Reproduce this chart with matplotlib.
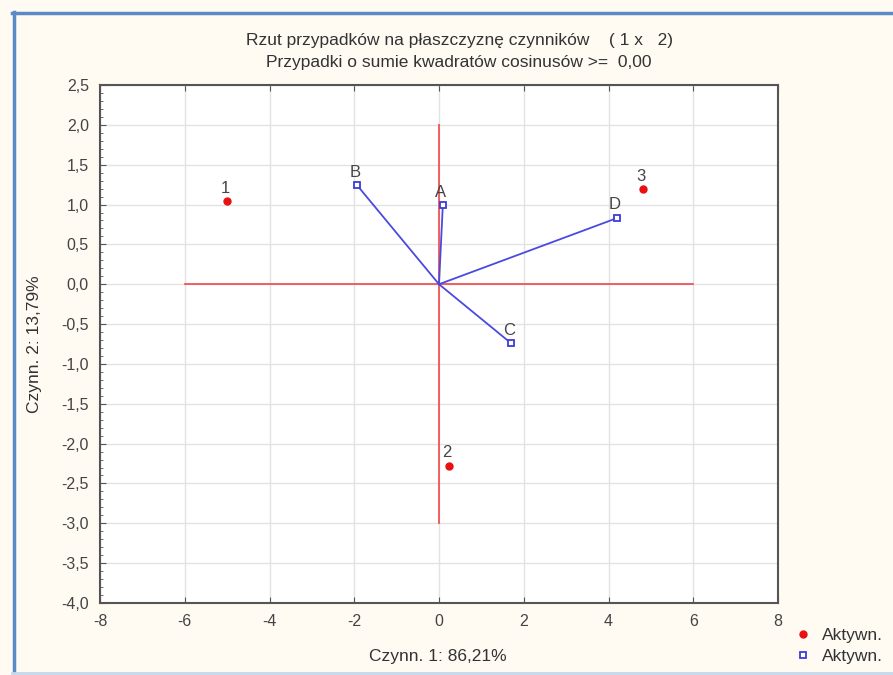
import matplotlib
matplotlib.use("Agg")
import matplotlib.pyplot as plt
from matplotlib.ticker import FuncFormatter, MultipleLocator
from matplotlib.lines import Line2D

plt.rcParams['font.family'] = ['Liberation Sans', 'DejaVu Sans']

# Data
case_labels = ['1', '2', '3']
case_x = [-5.00, 0.24, 4.81]
case_y = [1.04, -2.28, 1.19]

var_labels = ['A', 'B', 'C', 'D']
var_x = [0.09, -1.93, 1.70, 4.20]
var_y = [0.99, 1.24, -0.74, 0.83]

cross_h = [-6, 6]
cross_v = [-3, 2]

x_ticks = [-8, -6, -4, -2, 0, 2, 4, 6, 8]
y_ticks = [-4.0, -3.5, -3.0, -2.5, -2.0, -1.5, -1.0, -0.5, 0.0, 0.5, 1.0, 1.5, 2.0, 2.5]

title1 = "Rzut przypadków na płaszczyznę czynników    ( 1 x   2)"
title2 = "Przypadki o sumie kwadratów cosinusów >=  0,00"
xlabel = "Czynn. 1: 86,21%"
ylabel = "Czynn. 2: 13,79%"
legend_labels = ["Aktywn.", "Aktywn."]

W, H = 893, 675
fig = plt.figure(figsize=(W / 100, H / 100), dpi=100)
fig.patch.set_facecolor('#fffbf2')

# frame border lines (figure coords)
fig.add_artist(Line2D([12 / W, 1.0], [1 - 13 / H, 1 - 13 / H], color='#5b8ac6', lw=2.5))
fig.add_artist(Line2D([14 / W, 14 / W], [1 - 12 / H, 1 - 672 / H], color='#5b8ac6', lw=2.5))
fig.add_artist(Line2D([12 / W, 1.0], [1 - 673 / H, 1 - 673 / H], color='#c5d8ee', lw=2))

ax = fig.add_axes([100 / W, 1 - 603 / H, 678 / W, 518 / H])
ax.set_facecolor('white')
ax.set_xlim(-8, 8)
ax.set_ylim(-4, 2.5)
ax.set_xticks(x_ticks)
ax.set_yticks(y_ticks)
ax.yaxis.set_minor_locator(MultipleLocator(0.1))
ax.xaxis.set_major_formatter(FuncFormatter(lambda v, p: f"{v:.0f}"))
ax.yaxis.set_major_formatter(FuncFormatter(lambda v, p: f"{v:.1f}".replace('.', ',')))
ax.grid(True, which='major', color='#e2e2e2', lw=1)
ax.set_axisbelow(True)
for s in ax.spines.values():
    s.set_color('#555555')
    s.set_linewidth(1.5)
ax.tick_params(which='both', direction='in', top=True, right=False, colors='#555555',
               labelcolor='#444444', labelsize=11.5)
ax.tick_params(which='major', length=4)
ax.tick_params(which='minor', length=2, top=False)
ax.tick_params(axis='x', pad=8)
ax.tick_params(axis='y', pad=8)

# red cross
ax.plot(cross_h, [0, 0], color='#ee5555', lw=1.3, zorder=2)
ax.plot([0, 0], cross_v, color='#ee5555', lw=1.3, zorder=2)

# vectors
for vx, vy in zip(var_x, var_y):
    ax.plot([0, vx], [0, vy], color='#4a4ae0', lw=1.3, zorder=3)

ax.plot(case_x, case_y, 'o', color='#e81010', ms=5, zorder=4, label=legend_labels[0])
ax.plot(var_x, var_y, 's', mfc='white', mec='#3c3cd8', mew=1.3, ms=5, zorder=4,
        label=legend_labels[1])

for lab, x, y in list(zip(case_labels, case_x, case_y)) + list(zip(var_labels, var_x, var_y)):
    ax.annotate(lab, (x, y), xytext=(-1.5, 9.5), textcoords='offset points',
                ha='center', va='center', fontsize=12, color='#444444', zorder=5)

fs = 12.5
fig.text(459 / W, 1 - 40 / H, title1, ha='center', va='center', fontsize=fs, color='#333333')
fig.text(459 / W, 1 - 63 / H, title2, ha='center', va='center', fontsize=fs, color='#333333')
fig.text(438 / W, 1 - 657 / H, xlabel, ha='center', va='center', fontsize=fs, color='#333333')
fig.text(35 / W, 1 - 344 / H, ylabel, ha='center', va='center', rotation=90, fontsize=fs,
         color='#333333')

handles, labels = ax.get_legend_handles_labels()
fig.legend(handles, labels, loc='center left', bbox_to_anchor=(786 / W, 1 - 646 / H),
           frameon=False, fontsize=fs, handlelength=1.0, handletextpad=0.6,
           labelspacing=0.3, borderpad=0, labelcolor='#333333')

fig.savefig('out.png', dpi=100, facecolor=fig.get_facecolor())
